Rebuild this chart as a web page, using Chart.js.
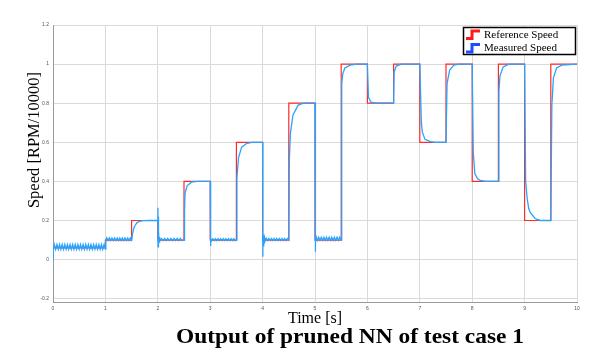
<!DOCTYPE html>
<html lang="en">
<head>
<meta charset="UTF-8">
<title>Output of pruned NN of test case 1</title>
<script src="https://cdn.jsdelivr.net/npm/chart.js"></script>
<style>
  html, body { margin: 0; padding: 0; background: #fff; }
</style>
</head>
<body>
<canvas id="speedChart" width="594" height="353"></canvas>

<script>
// reference speed (step signal), value holds from its time until the next one
const refTime  = [0, 1, 1.5, 2, 2.5, 3, 3.5, 4, 4.5, 5, 5.5, 6, 6.5, 7, 7.5, 8, 8.5, 9, 9.5, 10];
const refSpeed = [0.06, 0.1, 0.2, 0.1, 0.4, 0.1, 0.6, 0.1, 0.8, 0.1, 1, 0.8, 1, 0.6, 1, 0.4, 1, 0.2, 1, 1];

// measured speed
const measTime = [
  0, 0.004, 0.025, 0.05, 0.075, 0.1, 0.125, 0.15, 0.175, 0.2, 0.225, 0.25, 0.275, 0.3, 0.325, 0.35, 0.375, 0.4, 0.425, 0.45, 0.475,
  0.5, 0.525, 0.55, 0.575, 0.6, 0.625, 0.65, 0.675, 0.7, 0.725, 0.75, 0.775, 0.8, 0.825, 0.85, 0.875, 0.9, 0.925, 0.95, 0.975, 1.0,
  1.008, 1.025, 1.05, 1.075, 1.1, 1.125, 1.15, 1.175, 1.2, 1.225, 1.25, 1.275, 1.3, 1.325, 1.35, 1.375, 1.4, 1.425, 1.45, 1.475, 1.5,
  1.52, 1.54, 1.56, 1.6, 1.65, 1.72, 1.85, 2.0,
  2.002, 2.005, 2.009, 2.013, 2.018, 2.024, 2.032, 2.04,
  2.07, 2.1, 2.13, 2.16, 2.19, 2.22, 2.25, 2.28, 2.31, 2.34, 2.37, 2.4, 2.43, 2.46, 2.5,
  2.51, 2.52, 2.56, 2.64, 2.75, 3.0,
  3.003, 3.008, 3.015, 3.025,
  3.05, 3.075, 3.1, 3.125, 3.15, 3.175, 3.2, 3.225, 3.25, 3.275, 3.3, 3.325, 3.35, 3.375, 3.4, 3.425, 3.45, 3.475, 3.5,
  3.51, 3.54, 3.6, 3.7, 3.8, 4.0,
  4.003, 4.007, 4.012, 4.018, 4.025, 4.035, 4.045,
  4.07, 4.095, 4.12, 4.145, 4.17, 4.195, 4.22, 4.245, 4.27, 4.295, 4.32, 4.345, 4.37, 4.395, 4.42, 4.445, 4.47, 4.5,
  4.51, 4.53, 4.58, 4.68, 4.78, 5.0,
  5.003, 5.008, 5.014, 5.02,
  5.045, 5.07, 5.095, 5.12, 5.145, 5.17, 5.195, 5.22, 5.245, 5.27, 5.295, 5.32, 5.345, 5.37, 5.395, 5.42, 5.445, 5.47, 5.5,
  5.51, 5.53, 5.57, 5.67, 5.8, 6.0,
  6.02, 6.07, 6.15, 6.5,
  6.51, 6.55, 6.65, 7.0,
  7.03, 7.05, 7.1, 7.2, 7.3, 7.5,
  7.52, 7.57, 7.65, 7.75, 8.0,
  8.02, 8.05, 8.1, 8.15, 8.25, 8.5,
  8.51, 8.53, 8.59, 8.7, 9.0,
  9.02, 9.05, 9.08, 9.11, 9.2, 9.3, 9.5,
  9.52, 9.55, 9.61, 9.71, 10
];
const measSpeed = [
  0, 0.05, 0.077, 0.053, 0.077, 0.053, 0.077, 0.053, 0.077, 0.053, 0.077, 0.053, 0.077, 0.053, 0.077, 0.053, 0.077, 0.053, 0.077, 0.053, 0.077,
  0.053, 0.077, 0.053, 0.077, 0.053, 0.077, 0.053, 0.077, 0.053, 0.077, 0.053, 0.077, 0.053, 0.077, 0.053, 0.077, 0.053, 0.077, 0.053, 0.077, 0.053,
  0.1, 0.111, 0.097, 0.111, 0.097, 0.111, 0.097, 0.111, 0.097, 0.111, 0.097, 0.111, 0.097, 0.111, 0.097, 0.111, 0.097, 0.111, 0.097, 0.111, 0.1,
  0.135, 0.158, 0.172, 0.188, 0.196, 0.199, 0.2, 0.2,
  0.265, 0.065, 0.22, 0.075, 0.15, 0.09, 0.115, 0.097,
  0.108, 0.097, 0.108, 0.097, 0.108, 0.097, 0.108, 0.097, 0.108, 0.097, 0.108, 0.097, 0.108, 0.097, 0.1,
  0.25, 0.34, 0.377, 0.396, 0.4, 0.4,
  0.12, 0.07, 0.108, 0.095,
  0.107, 0.097, 0.107, 0.097, 0.107, 0.097, 0.107, 0.097, 0.107, 0.097, 0.107, 0.097, 0.107, 0.097, 0.107, 0.097, 0.107, 0.097, 0.1,
  0.42, 0.52, 0.575, 0.595, 0.6, 0.6,
  0.015, 0.14, 0.07, 0.125, 0.085, 0.112, 0.093,
  0.108, 0.097, 0.108, 0.097, 0.108, 0.097, 0.108, 0.097, 0.108, 0.097, 0.108, 0.097, 0.108, 0.097, 0.108, 0.097, 0.108, 0.1,
  0.51, 0.646, 0.74, 0.79, 0.8, 0.8,
  0.04, 0.18, 0.08, 0.12,
  0.098, 0.114, 0.098, 0.114, 0.098, 0.114, 0.098, 0.114, 0.098, 0.114, 0.098, 0.114, 0.098, 0.114, 0.098, 0.114, 0.098, 0.114, 0.1,
  0.9, 0.95, 0.98, 0.995, 1, 1,
  0.83, 0.805, 0.8, 0.8,
  0.96, 0.99, 1, 1,
  0.7, 0.65, 0.615, 0.603, 0.6, 0.6,
  0.9, 0.97, 0.995, 1, 1,
  0.55, 0.44, 0.415, 0.405, 0.4, 0.4,
  0.86, 0.94, 0.985, 1, 1,
  0.4, 0.31, 0.26, 0.24, 0.21, 0.2, 0.2,
  0.79, 0.93, 0.98, 0.995, 1
];

const xTicks = [0, 1, 2, 3, 4, 5, 6, 7, 8, 9, 10];
const yTicks = [-0.2, 0, 0.2, 0.4, 0.6, 0.8, 1, 1.2];
const seriesNames = ['Reference Speed', 'Measured Speed'];
const xTitle = 'Time [s]';
const yTitle = 'Speed [RPM/10000]';
const chartTitle = 'Output of pruned NN of test case 1';

const refColor = '#ff2a2a';
const measColor = '#26a4ff';
const legendColors = ['#ff1a1a', '#1f4cff'];

// titles + matlab style legend box drawn straight on the canvas
const extraText = {
  id: 'extraText',
  afterDraw(chart) {
    const ctx = chart.ctx;
    ctx.save();
    ctx.fillStyle = '#000';
    ctx.textAlign = 'center';
    ctx.textBaseline = 'middle';

    // y title (sits a bit above centre in the original)
    ctx.save();
    ctx.translate(35, 140);
    ctx.rotate(-Math.PI / 2);
    ctx.font = '16.5px "Liberation Serif"';
    ctx.fillText(yTitle, 0, 0);
    ctx.restore();

    // caption under the plot: the original face is wider, so stretch it to ~348px
    ctx.save();
    ctx.font = 'bold 21px "Liberation Serif"';
    const stretch = 348 / ctx.measureText(chartTitle).width;
    ctx.translate(350, 343);
    ctx.scale(stretch, 1);
    ctx.textBaseline = 'alphabetic';
    ctx.fillText(chartTitle, 0, 0);
    ctx.restore();

    // legend
    const bx = 463.5, by = 27.5, bw = 112, bh = 27;
    ctx.fillStyle = '#fff';
    ctx.fillRect(bx, by, bw, bh);
    ctx.strokeStyle = '#000';
    ctx.lineWidth = 1.5;
    ctx.strokeRect(bx, by, bw, bh);
    ctx.font = '11px "Liberation Serif"';
    ctx.textAlign = 'left';
    ctx.textBaseline = 'middle';
    seriesNames.forEach((name, i) => {
      const yc = 34.5 + i * 13.5;
      ctx.strokeStyle = legendColors[i];
      ctx.lineWidth = 3;
      ctx.beginPath();
      ctx.moveTo(466, yc + 4);
      ctx.lineTo(472, yc + 4);
      ctx.lineTo(472, yc - 3.5);
      ctx.lineTo(480, yc - 3.5);
      ctx.stroke();
      ctx.fillStyle = '#000';
      ctx.fillText(name, 484, yc + 0.5);
    });
    ctx.restore();
  }
};

const ctx = document.getElementById('speedChart').getContext('2d');
const speedChart = new Chart(ctx, {
  type: 'line',
  data: {
    datasets: [{
      label: seriesNames[1],
      data: measTime.map((t, i) => ({ x: t, y: measSpeed[i] })),
      borderColor: measColor,
      borderWidth: 1.3,
      pointRadius: 0,
      tension: 0,
      order: 0
    }, {
      label: seriesNames[0],
      data: refTime.map((t, i) => ({ x: t, y: refSpeed[i] })),
      borderColor: refColor,
      borderWidth: 1.2,
      pointRadius: 0,
      stepped: 'before',
      order: 1
    }]
  },
  options: {
    responsive: false,
    animation: false,
    layout: { padding: { left: 0, right: 17, top: 25, bottom: 0 } },
    plugins: {
      legend: { display: false },
      tooltip: { enabled: false },
      title: { display: false }
    },
    scales: {
      x: {
        type: 'linear',
        min: 0,
        max: 10,
        afterBuildTicks: s => { s.ticks = xTicks.map(v => ({ value: v })); },
        afterFit: s => { s.height = 51; },
        grid: { color: '#dadada', lineWidth: 1, drawTicks: false },
        border: { color: '#9a9a9a', width: 1 },
        ticks: { color: '#555', font: { size: 5, family: 'Liberation Sans' }, padding: 4, maxRotation: 0 },
        title: {
          display: true,
          text: xTitle,
          color: '#000',
          font: { size: 16, family: 'Liberation Serif' },
          padding: { top: 0, bottom: 25 }
        }
      },
      y: {
        min: -0.217,
        max: 1.2,
        afterBuildTicks: s => { s.ticks = yTicks.map(v => ({ value: v })); },
        afterFit: s => { s.width = 53; },
        grid: { color: '#dadada', lineWidth: 1, drawTicks: false },
        border: { color: '#9a9a9a', width: 1 },
        ticks: {
          color: '#555',
          font: { size: 5, family: 'Liberation Sans' },
          padding: 4,
          callback: v => String(Number(v.toFixed(1)))
        }
      }
    }
  },
  plugins: [extraText]
});
</script>
</body>
</html>
